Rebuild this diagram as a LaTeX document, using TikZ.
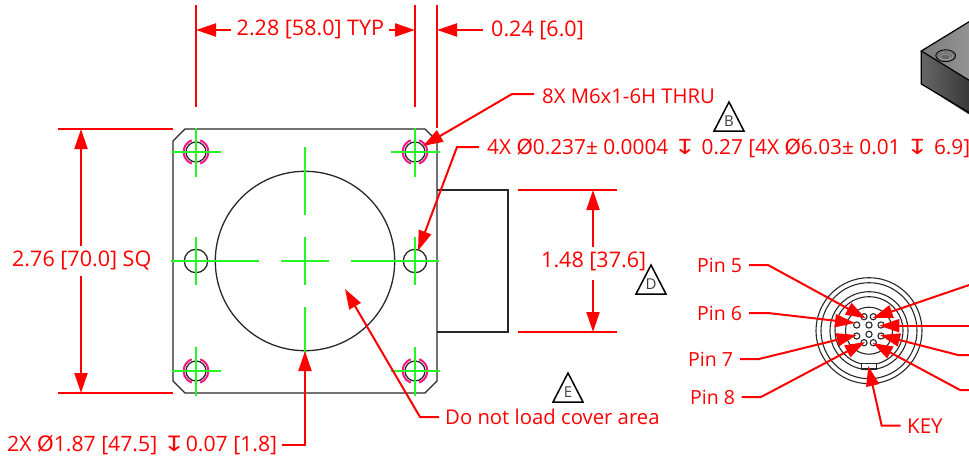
\documentclass[tikz,border=0pt]{standalone}
\usepackage{fontspec}
\usepackage{graphicx}
\setmainfont{Open Sans}
\newfontfamily\symfam{DejaVu Sans}
\usetikzlibrary{arrows.meta}
\definecolor{dimred}{RGB}{255,0,0}
\definecolor{cl}{RGB}{40,245,40}
\definecolor{pk}{RGB}{245,20,130}
\definecolor{edge}{RGB}{40,40,40}
\newcommand{\dpth}{\scalebox{1.3}[1]{\symfam ↧}}
\newcommand{\dia}{{\symfam Ø}}
\tikzset{
 x=1pt,y=-1pt,
 part/.style={draw=edge,line width=1.3pt},
 cline/.style={draw=cl,line width=1.6pt},
 thr/.style={draw=pk,line width=2pt},
 red/.style={draw=dimred,line width=2pt},
 lead/.style={red,-{Triangle[length=20pt,width=13pt]}},
 lbl/.style={text=dimred,inner sep=0pt,anchor=west},
 ldig/.style={lbl,font=\fontsize{21.5}{24}\selectfont},
 lnote/.style={lbl,font=\fontsize{20.3}{24}\selectfont},
 lpin/.style={lbl,font=\fontsize{19.5}{22}\selectfont},
 tri/.style={draw=black,line width=1.5pt,fill=white,line join=miter},
 trit/.style={font=\fontsize{15}{17}\selectfont,text=black!75,inner sep=0pt},
}
\newcommand{\triangleat}[3]{%
 \draw[tri] (#1-15,#2+14) -- (#1,#2-15) -- (#1+15,#2+14) -- cycle;
 \node[trit] (tri#3) at (#1,#2+4) {#3};}
\begin{document}
\begin{tikzpicture}
\useasboundingbox (0,0) rectangle (969,458);
% isometric part
\begin{scope}
\clip (900,0) rectangle (969,130);
\fill[left color=black!52,right color=black!36] (921.3,51) -- (985,12) -- (1000,50) -- (985,91) -- cycle;
\fill[left color=black!60,right color=black!80] (921.3,51) -- (975,84) -- (975,118) -- (921.3,84) -- cycle;
\draw[black,line width=1.2pt] (985,12) -- (921.3,51) -- (985,90);
\draw[black,line width=1.2pt] (921.3,51) -- (921.3,84) -- (985,122);
\fill[black!60] (945.7,55.7) ellipse (10 and 6);
\draw[black!35,line width=.6pt] (945.7,56) ellipse (7 and 4);
\draw[black!35,line width=.6pt] (945.7,57) ellipse (5 and 3);
\draw[black,line width=.7pt] (945.7,55.7) ellipse (10 and 6);
\end{scope}
% side block
\draw[part] (437,190) -- (508,190) -- (508,332) -- (437,332);
% plate
\draw[part] (185,129) -- (425,129) -- (437,141) -- (437,381) -- (425,393) -- (185,393) -- (173,381) -- (173,141) -- cycle;
\draw[part] (305,261) circle (89.7);
\foreach \hx/\hy in {196/152,415/152,196/371,415/371}{
 \draw[part] (\hx,\hy) circle (10);
 \draw[thr] (\hx,\hy) ++(70:12.4) arc[start angle=70,end angle=-70,radius=12.4];
 \draw[thr] (\hx,\hy) ++(110:12.4) arc[start angle=110,end angle=250,radius=12.4];
}
\draw[part] (196,261) circle (11.7);
\draw[part] (415,261) circle (11.7);
% centre lines
\foreach \hx/\hy in {196/152,415/152,196/371,415/371}{
 \draw[cline] (\hx-24.5,\hy) -- (\hx+24.5,\hy);
 \draw[cline] (\hx,\hy-24.5) -- (\hx,\hy+24.5);
}
\draw[cline] (171,261) -- (259,261);
\draw[cline] (280.7,261) -- (329,261);
\draw[cline] (351,261) -- (439,261);
\draw[cline] (196,236.7) -- (196,285.3);
\draw[cline] (415,236.7) -- (415,285.3);
\draw[cline] (305,147) -- (305,214.7);
\draw[cline] (305,236.7) -- (305,285.3);
\draw[cline] (305,307) -- (305,375);
% connector
\foreach \r in {53,48,39,34,23.5}{\draw[draw=edge,line width=1.1pt] (869,330.7) circle (\r);}
\foreach \px/\py in {864/316.7,873.3/316.7,856.7/325,881/325,869/325,869/334.3,856.7/336,881/336,864/342.7,873.3/342.7}{
 \draw[draw=edge,line width=1.1pt] (\px,\py) circle (3.1);}
\draw[draw=edge,line width=1.1pt,fill=white] (861.7,363.3) rectangle (876.7,369);
% extension lines
\coordinate (xa) at (196,5); \coordinate (xb) at (196,107);
\coordinate (xc) at (415,5); \coordinate (xd) at (415,107);
\coordinate (xe) at (437,5); \coordinate (xf) at (437,128);
\draw[red] (xa) -- (xb); \draw[red] (xc) -- (xd); \draw[red] (xe) -- (xf);
\draw[red] (58,129) -- (173,129);
\draw[red] (58,393) -- (173,393);
\draw[red] (518,190) -- (617,190);
\draw[red] (518,332) -- (617,332);
% dims top
\node[ldig] (d228) at (236.5,29) {2.28 [58.0] TYP};
\node[ldig] (d024) at (491,30.5) {0.24 [6.0]};
\coordinate (t1) at (196,30); \coordinate (t2) at (415,30); \coordinate (t3) at (437,30);
\draw[lead] (230.7,30) -- (t1);
\draw[lead] (389.3,30) -- (t2);
\draw[lead] (483,30) -- (t3);
% dim left
\node[ldig] (d276) at (12,261) {2.76 [70.0] SQ};
\coordinate (l1) at (81,129); \coordinate (l2) at (81,393);
\draw[lead] (81,246) -- (l1);
\draw[lead] (81,276) -- (l2);
% dim right
\node[ldig] (d148) at (541,261) {1.48 [37.6]};
\coordinate (r1) at (593,190); \coordinate (r2) at (593,332);
\draw[lead] (593,247) -- (r1);
\draw[lead] (593,280) -- (r2);
% notes
\node[lnote] (n8x) at (542,96) {8X M6x1-6H THRU};
\coordinate (n8a) at (534,94); \coordinate (n8b) at (512,94); \coordinate (n8t) at (423,146);
\draw[lead] (n8a) -- (n8b) -- (n8t);
\node[lnote,font=\fontsize{20.8}{24}\selectfont] (n4x) at (487,148) {4X \dia0.237± 0.0004 \dpth{} 0.27 [4X \dia6.03± 0.01 \dpth{} 6.9]};
\coordinate (n4a) at (479,147); \coordinate (n4b) at (457,147); \coordinate (n4t) at (418,250.7);
\draw[lead] (n4a) -- (n4b) -- (n4t);
\node[lnote] (ncov) at (445,417) {Do not load cover area};
\coordinate (na) at (439,417); \coordinate (nb) at (420,417); \coordinate (nt) at (345,289);
\draw[lead] (na) -- (nb) -- (nt);
\node[ldig,font=\fontsize{21.2}{24}\selectfont] (n2x) at (7,445) {2X \dia1.87 [47.5] \dpth{}0.07 [1.8]};
\coordinate (ma) at (282,445); \coordinate (mb) at (305,445); \coordinate (mt) at (305,351);
\draw[lead] (ma) -- (mb) -- (mt);
% triangles
\triangleat{729}{117}{B}
\triangleat{651}{280}{D}
\triangleat{568}{388}{E}
% pins
\node[lpin] (p5) at (697,265) {Pin 5};
\node[lpin] (p6) at (697,313) {Pin 6};
\node[lpin] (p7) at (688,359) {Pin 7};
\node[lpin] (p8) at (690,397) {Pin 8};
\node[lpin,font=\fontsize{20.5}{24}\selectfont] (key) at (907,426) {KEY};
\coordinate (p5t) at (865.7,318.3);
\coordinate (p6t) at (855,323);
\coordinate (p7t) at (856.7,335);
\coordinate (p8t) at (865,342);
\coordinate (kt) at (868.3,366);
\draw[lead] (749,265) -- (768,265) -- (p5t);
\draw[lead] (749,313) -- (768,313) -- (p6t);
\draw[lead] (740,359) -- (759,359) -- (p7t);
\draw[lead] (741.7,397) -- (761,397) -- (p8t);
\draw[lead] (900.7,425.7) -- (881.7,425.7) -- (kt);
\coordinate (p1t) at (872.7,318);
\coordinate (p2t) at (879.3,325.7);
\coordinate (p3t) at (880,335);
\coordinate (p4t) at (872.7,343);
\draw[lead] (975,283) -- (p1t);
\draw[lead] (975,325.7) -- (p2t);
\draw[lead] (975,355) -- (958,355) -- (p3t);
\draw[lead] (975,390) -- (960,390) -- (p4t);
\end{tikzpicture}
\end{document}
